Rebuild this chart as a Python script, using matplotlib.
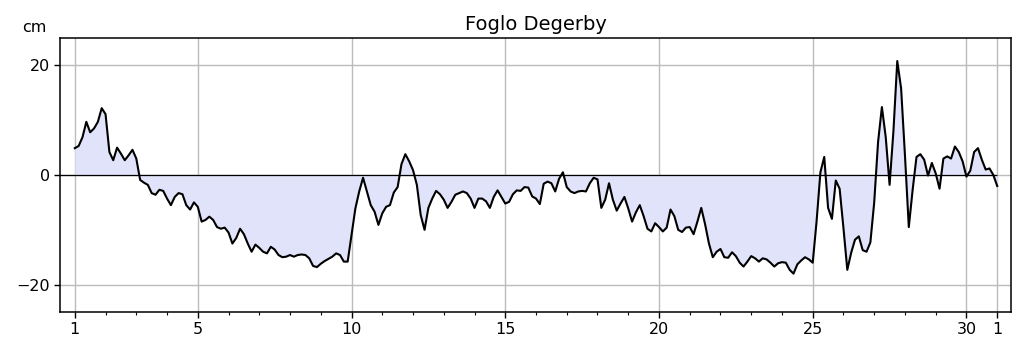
import numpy as np
import matplotlib
matplotlib.use("Agg")
import matplotlib.pyplot as plt

title = "Foglo Degerby"
unit_label = "cm"
tick_days = [1, 5, 10, 15, 20, 25, 30, 31]
tick_labels = ["1", "5", "10", "15", "20", "25", "30", "1"]
step_hours = 3

# sea level (cm), one value every 3 hours starting at day 1 00:00
sea_level_cm = [
    4.9, 5.3, 6.9, 9.7, 7.8, 8.5, 9.7, 12.2,            # day 1
    11.1, 4.2, 2.7, 5.0, 3.9, 2.7, 3.6, 4.6,            # day 2
    3.0, -0.9, -1.4, -1.8, -3.3, -3.6, -2.7, -2.9,      # day 3
    -4.3, -5.5, -4.0, -3.3, -3.5, -5.5, -6.3, -5.0,     # day 4
    -5.8, -8.5, -8.2, -7.6, -8.2, -9.5, -9.8, -9.6,     # day 5
    -10.5, -12.5, -11.5, -9.8, -10.8, -12.5, -14.0, -12.7,  # day 6
    -13.3, -14.0, -14.3, -13.1, -13.6, -14.6, -15.0, -14.9,  # day 7
    -14.6, -14.9, -14.6, -14.5, -14.6, -15.2, -16.6, -16.8,  # day 8
    -16.2, -15.7, -15.3, -14.9, -14.3, -14.6, -15.8, -15.8,  # day 9
    -11.0, -6.1, -3.0, -0.5, -3.0, -5.5, -6.7, -9.1,    # day 10
    -7.0, -5.8, -5.5, -3.2, -2.2, 2.0, 3.8, 2.5,        # day 11
    0.9, -1.8, -7.3, -10.0, -6.0, -4.3, -2.9, -3.5,     # day 12
    -4.5, -6.0, -4.9, -3.6, -3.3, -3.0, -3.3, -4.3,     # day 13
    -6.0, -4.3, -4.3, -4.8, -6.0, -4.0, -2.8, -4.0,     # day 14
    -5.2, -4.9, -3.5, -2.8, -2.9, -2.2, -2.3, -3.9,     # day 15
    -4.3, -5.3, -1.6, -1.2, -1.5, -3.0, -0.7, 0.5,      # day 16
    -2.2, -3.0, -3.3, -3.0, -2.9, -3.0, -1.5, -0.5,     # day 17
    -0.8, -6.0, -4.5, -1.5, -4.5, -6.5, -5.2, -4.0,     # day 18
    -6.1, -8.5, -6.8, -5.5, -7.5, -9.8, -10.3, -8.8,    # day 19
    -9.5, -10.3, -9.6, -6.3, -7.5, -10.0, -10.4, -9.6,  # day 20
    -9.5, -10.8, -8.5, -6.0, -9.0, -12.5, -15.0, -14.0,  # day 21
    -13.5, -15.0, -15.1, -14.1, -14.8, -16.0, -16.7, -15.8,  # day 22
    -14.8, -15.2, -15.8, -15.2, -15.4, -16.0, -16.7, -16.1,  # day 23
    -15.9, -16.0, -17.3, -18.0, -16.3, -15.6, -15.0, -15.4,  # day 24
    -16.0, -8.5, 0.5, 3.3, -6.0, -8.0, -1.0, -2.5,      # day 25
    -9.7, -17.3, -14.2, -11.8, -11.2, -13.7, -14.0, -12.3,  # day 26
    -5.0, 6.0, 12.4, 6.9, -1.8, 8.0, 20.8, 15.8,        # day 27
    3.6, -9.5, -2.7, 3.3, 3.8, 2.8, -0.1, 2.2,          # day 28
    0.3, -2.5, 3.0, 3.4, 3.0, 5.2, 4.2, 2.5,            # day 29
    -0.3, 0.8, 4.2, 4.9, 2.8, 1.0, 1.2, 0.0,            # day 30
    -2.0,                                               # day 31 (1st of next month)
]

y = np.array(sea_level_cm)
x = 1 + np.arange(len(y)) * step_hours / 24.0

fig = plt.figure(figsize=(10.23, 3.52), dpi=100)
ax = fig.add_axes([0.0587, 0.1136, 0.9296, 0.7784])

ax.fill_between(x, y, 0, color="#e1e3fa", linewidth=0, zorder=1)
ax.plot(x, y, color="black", linewidth=1.5, zorder=3)
ax.hlines(0, 0.5, x[-1], color="black", linewidth=0.9, zorder=2)

ax.set_xlim(0.52, 31.45)
ax.set_ylim(-25, 25)
ax.set_yticks([-20, 0, 20])
ax.set_xticks(tick_days)
ax.set_xticklabels(tick_labels)
ax.set_xticks(np.arange(1, 32), minor=True)
ax.grid(True, which="major", color="#bcbcbc", linewidth=1.0, zorder=0)
ax.set_axisbelow(True)
ax.tick_params(axis="both", which="major", labelsize=11.5, length=4, width=1)
ax.tick_params(axis="x", which="minor", length=2.5, width=0.8)
for s in ax.spines.values():
    s.set_linewidth(1.1)

ax.set_title(title, fontsize=14, pad=6)
ax.text(-0.014, 1.012, unit_label, transform=ax.transAxes, ha="right", va="bottom",
        fontsize=11.5)

fig.savefig("out.png", dpi=100)
